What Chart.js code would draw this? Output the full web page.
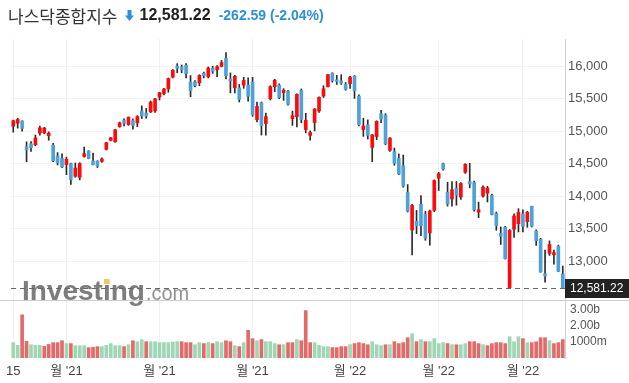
<!DOCTYPE html>
<html>
<head>
<meta charset="utf-8">
<script src="https://cdn.jsdelivr.net/npm/chart.js@4.4.1/dist/chart.umd.min.js"></script>
<style>
  body { margin: 0; background: #fff; }
  #wrap { position: relative; width: 629px; height: 383px; overflow: hidden; }
  #myChart { position: absolute; left: 0; top: 0; }
  #head { position: absolute; left: 8px; top: 3px; height: 24px; display: flex; align-items: center; white-space: nowrap;
          font-family: "Liberation Sans", Arial, "Noto Sans CJK KR", sans-serif; }
  #name { font-family: "Noto Sans CJK KR", sans-serif; font-size: 17px; color: #333; }
  #arrow { margin: 0 5px 0 8px; }
  #last { font-size: 16px; font-weight: bold; color: #222; }
  #chg { font-size: 14px; font-weight: bold; color: #2d8fd5; margin-left: 8px; }
</style>
</head>
<body>
<div id="wrap">
  <canvas id="myChart" width="629" height="383"></canvas>
  <div id="head">
    <span id="name">나스닥종합지수</span>
    <svg id="arrow" width="9" height="11" viewBox="0 0 9 11"><path d="M2.5 0h4v5.5h2.5L4.5 11 0 5.5h2.5z" fill="#2d8fd5"/></svg>
    <span id="last">12,581.22</span>
    <span id="chg">-262.59 (-2.04%)</span>
  </div>
</div>
<script>
// trading days, Sep 2021 - Mar 2022
const months = ['2021-09', '2021-10', '2021-11', '2021-12', '2022-01', '2022-02', '2022-03'];
const days = [
  [15, 16, 17, 20, 21, 22, 23, 24, 27, 28, 29, 30],
  [1, 4, 5, 6, 7, 8, 11, 12, 13, 14, 15, 18, 19, 20, 21, 22, 25, 26, 27, 28, 29],
  [1, 2, 3, 4, 5, 8, 9, 10, 11, 12, 15, 16, 17, 18, 19, 22, 23, 24, 26, 29, 30],
  [1, 2, 3, 6, 7, 8, 9, 10, 13, 14, 15, 16, 17, 20, 21, 22, 23, 27, 28, 29, 30, 31],
  [3, 4, 5, 6, 7, 10, 11, 12, 13, 14, 18, 19, 20, 21, 24, 25, 26, 27, 28, 31],
  [1, 2, 3, 4, 7, 8, 9, 10, 11, 14, 15, 16, 17, 18, 22, 23, 24, 25, 28],
  [1, 2, 3, 4, 7, 8, 9, 10, 11, 14]
];

const open = [
  15077, 15123, 15158, 14760, 14806, 14790, 14970, 14975, 14930, 14786, 14620, 14580,
  14484, 14500, 14305, 14290, 14612, 14694, 14541, 14540, 14535, 14720, 14860, 14836, 15071, 15164, 15102, 15163, 15127, 15311, 15280, 15300, 15311,
  15525, 15576, 15652, 15832, 16000, 15990, 16015, 15755, 15760, 15745, 15893, 15837, 15969, 15945, 16000, 16122, 15806, 15668, 15668, 15709, 15709,
  15755, 15178, 15438, 15117, 15500, 15684, 15709, 15592, 15617, 15194, 15224, 15628, 15025, 14935, 15133, 15311, 15541, 15684, 15893, 15790, 15775, 15724,
  15730, 15847, 15541, 15025, 15097, 14750, 14918, 15270, 15250, 14704, 14683, 14581, 14469, 14056, 13478, 13612, 13872, 13724, 13433, 13780,
  14275, 14500, 14061, 13954, 14122, 13985, 14367, 14224, 14209, 13754, 14000, 14046, 14010, 13734, 13428, 13520, 12591, 13489, 13576,
  13724, 13607, 13841, 13463, 13336, 12805, 13117, 13096, 13229, 12800
];
const high = [
  15170, 15199, 15160, 14836, 14840, 14940, 15080, 15060, 14990, 14815, 14670, 14650,
  14600, 14510, 14510, 14515, 14755, 14700, 14664, 14545, 14590, 14830, 14905, 15030, 15140, 15190, 15220, 15190, 15240, 15390, 15350, 15465, 15505,
  15600, 15660, 15820, 15950, 16040, 16020, 16040, 15857, 15780, 15870, 15910, 15990, 16000, 16010, 16090, 16212, 15898, 15860, 15720, 15830, 15821,
  15830, 15450, 15450, 15280, 15700, 15800, 15730, 15655, 15630, 15310, 15576, 15650, 15276, 15005, 15350, 15530, 15700, 15875, 15900, 15860, 15870, 15750,
  15845, 15857, 15560, 15200, 15175, 14950, 15160, 15320, 15270, 14900, 14740, 14650, 14633, 14178, 13872, 13780, 14010, 13765, 13785, 14250,
  14367, 14510, 14214, 14225, 14225, 14210, 14500, 14504, 14230, 13907, 14160, 14150, 14030, 13755, 13525, 13535, 13485, 13729, 13806,
  13790, 13765, 13845, 13480, 13350, 13168, 13310, 13170, 13245, 12923
];
const low = [
  14985, 15046, 15000, 14530, 14690, 14775, 14940, 14960, 14860, 14530, 14480, 14440,
  14330, 14182, 14290, 14250, 14600, 14575, 14480, 14440, 14520, 14710, 14850, 14830, 15060, 15080, 15090, 15030, 15070, 15195, 15200, 15285, 15290,
  15480, 15560, 15600, 15820, 15900, 15900, 15820, 15530, 15680, 15700, 15820, 15820, 15890, 15840, 15990, 15806, 15590, 15590, 15450, 15660, 15464,
  15230, 15143, 14940, 14940, 15480, 15610, 15500, 15475, 15400, 15090, 15066, 15130, 14975, 14862, 15005, 15290, 15520, 15680, 15755, 15720, 15720, 15630,
  15660, 15505, 15080, 14920, 14880, 14530, 14870, 15130, 14790, 14690, 14475, 14330, 14137, 13755, 13094, 13420, 13390, 13320, 13244, 13760,
  14086, 14400, 13847, 13847, 13860, 13950, 14350, 14128, 13770, 13668, 13985, 13910, 13710, 13474, 13255, 13030, 12587, 13362, 13449,
  13450, 13520, 13525, 13240, 12828, 12673, 13087, 12950, 12835, 12578
];
const close = [
  15161, 15181, 15044, 14713, 14746, 14896, 15052, 15048, 14970, 14546, 14512, 14448,
  14567, 14255, 14433, 14502, 14654, 14580, 14486, 14465, 14572, 14823, 14897, 15021, 15129, 15122, 15215, 15090, 15226, 15236, 15235, 15448, 15498,
  15595, 15649, 15811, 15940, 15971, 15945, 15886, 15622, 15704, 15860, 15853, 15973, 15921, 15993, 16057, 15854, 15775, 15845, 15491, 15782, 15537,
  15254, 15381, 15085, 15225, 15686, 15786, 15517, 15630, 15413, 15237, 15566, 15180, 15169, 14980, 15341, 15522, 15653, 15871, 15781, 15766, 15741, 15645,
  15833, 15622, 15100, 15081, 14936, 14943, 15153, 15188, 14806, 14894, 14507, 14341, 14155, 13769, 13856, 13540, 13542, 13353, 13771, 14240,
  14346, 14418, 13879, 14098, 14015, 14195, 14490, 14186, 13791, 13790, 14139, 14125, 13717, 13548, 13381, 13037, 13474, 13695, 13751,
  13532, 13752, 13538, 13313, 12831, 12770, 13256, 13130, 12843, 12581.22
];
const prevClose = 15037;
// volume in millions
const volume = [
  960, 790, 2700, 1040, 830, 790, 790, 730, 850, 960, 960, 1080,
  900, 900, 770, 770, 770, 650, 670, 710, 710, 790, 900, 770, 770, 710, 830, 1080, 1020, 1150, 1020, 1020, 1020,
  960, 960, 960, 1000, 1020, 1020, 960, 960, 830, 960, 900, 960, 900, 1020, 960, 1080, 1020, 770, 710, 960, 1730,
  1210, 1080, 1150, 1020, 1020, 900, 830, 830, 960, 960, 1150, 1080, 2960, 960, 960, 790, 710, 710, 650, 650, 710, 710,
  830, 900, 960, 900, 830, 1020, 830, 770, 830, 830, 1020, 900, 960, 1270, 1520, 1020, 1150, 1020, 1020, 1210,
  900, 960, 900, 830, 830, 830, 900, 1020, 1020, 900, 830, 770, 900, 960, 960, 900, 1330, 1020, 1330,
  1210, 960, 960, 1020, 1270, 1270, 1080, 900, 960, 1150
];

const priceTicks = [13000, 13500, 14000, 14500, 15000, 15500, 16000];
const volTicks = [1000, 2000, 3000];
const tickDates = ['2021-09-15', '2021-10-01', '2021-11-01', '2021-12-01', '2022-01-03', '2022-02-01', '2022-03-01'];
const tickTexts = ['15', "월 '21", "월 '21", "월 '21", "월 '22", "월 '22", "월 '22"];

const labels = [];
months.forEach((m, i) => days[i].forEach(d => labels.push(m + '-' + String(d).padStart(2, '0'))));
const tickIdx = tickDates.map(d => labels.indexOf(d));

const UP = '#ff0a0a', DOWN = '#4ea1d9';
const bodyColors = close.map((c, i) => c >= open[i] ? UP : DOWN);
const volColors = close.map((c, i) => c >= (i ? close[i - 1] : prevClose) ? '#9fd6b3' : '#e36a6a');

Chart.defaults.font.family = '"Liberation Sans", Arial, "Noto Sans CJK KR", sans-serif';

const overlay = {
  id: 'overlay',
  beforeDatasetsDraw(chart) {
    const ctx = chart.ctx;
    const y0 = 300;
    ctx.save();
    ctx.textBaseline = 'alphabetic';
    ctx.fillStyle = 'rgba(118,118,118,0.95)';
    ctx.font = 'bold 28px "Liberation Sans", Arial, sans-serif';
    ctx.fillText('Investing', 22, y0);
    const w = ctx.measureText('Investing').width;
    const wi = ctx.measureText('Invest').width;
    const wdot = ctx.measureText('i').width;
    ctx.fillStyle = 'rgb(246,196,110)';
    ctx.fillRect(22 + wi + 1, y0 - 21, wdot - 2, 5);
    ctx.fillStyle = 'rgba(140,140,140,0.95)';
    ctx.font = '20px "Liberation Sans", Arial, sans-serif';
    ctx.fillText('.com', 22 + w + 1, y0);
    ctx.restore();
  },
  afterDatasetsDraw(chart) {
    const ctx = chart.ctx;
    const area = chart.chartArea;
    const ys = chart.scales.y;
    ctx.save();
    // panel separator
    ctx.strokeStyle = '#cfcfcf';
    ctx.lineWidth = 1;
    ctx.beginPath();
    ctx.moveTo(0, Math.round(ys.bottom) + 0.5);
    ctx.lineTo(chart.width, Math.round(ys.bottom) + 0.5);
    ctx.stroke();
    // last price line
    const last = close[close.length - 1];
    const py = Math.round(ys.getPixelForValue(last)) + 0.5;
    ctx.strokeStyle = '#666';
    ctx.setLineDash([5, 4]);
    ctx.beginPath();
    ctx.moveTo(area.left, py);
    ctx.lineTo(area.right, py);
    ctx.stroke();
    ctx.setLineDash([]);
    ctx.fillStyle = '#222';
    ctx.fillRect(area.right, py - 9.5, chart.width - area.right, 19);
    ctx.fillStyle = '#fff';
    ctx.font = '12px "Liberation Sans", Arial, sans-serif';
    ctx.textBaseline = 'middle';
    ctx.fillText(last.toLocaleString('en-US', {minimumFractionDigits: 2}), area.right + 5, py);
    ctx.restore();
  }
};

new Chart(document.getElementById('myChart'), {
  type: 'bar',
  data: {
    labels: labels,
    datasets: [
      {
        label: 'body',
        data: labels.map((_, i) => [open[i], close[i]]),
        backgroundColor: bodyColors,
        barThickness: 3,
        minBarLength: 1,
        grouped: false,
        order: 0,
        yAxisID: 'y'
      },
      {
        label: 'wick',
        data: labels.map((_, i) => [low[i], high[i]]),
        backgroundColor: '#2b2b2b',
        barThickness: 1,
        grouped: false,
        order: 1,
        yAxisID: 'y'
      },
      {
        label: 'volume',
        data: volume,
        backgroundColor: volColors,
        barThickness: 3,
        grouped: false,
        order: 2,
        yAxisID: 'y2'
      }
    ]
  },
  options: {
    responsive: false,
    animation: false,
    events: [],
    layout: { padding: { top: 39, left: 8, right: 0, bottom: 0 } },
    plugins: { legend: { display: false }, tooltip: { enabled: false } },
    scales: {
      x: {
        offset: true,
        afterFit: s => { s.height = 25; },
        grid: {
          offset: false,
          drawTicks: false,
          color: ctx => tickIdx.includes(ctx.index) ? '#f0f0f0' : 'rgba(0,0,0,0)'
        },
        border: { display: false },
        ticks: {
          autoSkip: false,
          maxRotation: 0,
          padding: 6,
          color: '#444',
          font: { size: 13 },
          callback: (v, i) => {
            const k = tickIdx.indexOf(i);
            return k >= 0 ? tickTexts[k] : '';
          }
        }
      },
      y: {
        position: 'right',
        stack: 'panes',
        stackWeight: 261,
        min: 12400,
        max: 16420,
        afterBuildTicks: s => { s.ticks = priceTicks.map(v => ({ value: v })); },
        afterFit: s => { s.width = 64; },
        grid: { color: '#f2f2f2', drawTicks: false },
        border: { color: '#d0d0d0' },
        ticks: {
          autoSkip: false,
          padding: 3,
          color: '#555',
          font: { size: 13 },
          callback: v => v.toLocaleString('en-US')
        }
      },
      y2: {
        position: 'right',
        stack: 'panes',
        stackWeight: 58,
        min: 0,
        max: 3625,
        afterBuildTicks: s => { s.ticks = volTicks.map(v => ({ value: v })); },
        afterFit: s => { s.width = 64; },
        grid: { display: false, drawTicks: false },
        border: { color: '#d0d0d0' },
        ticks: {
          autoSkip: false,
          padding: 5,
          color: '#555',
          font: { size: 12, lineHeight: 1 },
          callback: v => v >= 2000 ? (v / 1000).toFixed(2) + 'b' : v + 'm'
        }
      }
    }
  },
  plugins: [overlay]
});
</script>
</body>
</html>
